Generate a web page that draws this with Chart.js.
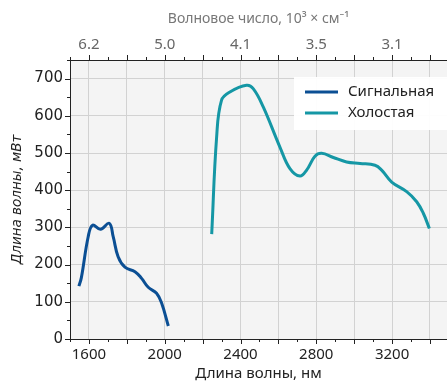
<!DOCTYPE html>
<html>
<head>
<meta charset="utf-8">
<script src="https://cdn.jsdelivr.net/npm/chart.js@4.4.1/dist/chart.umd.min.js"></script>
<style>
  html, body { margin: 0; padding: 0; background: #fff; overflow: hidden; }
  #wrap { width: 447px; height: 383px; }
</style>
</head>
<body>
<div id="wrap"><canvas id="myChart" width="447" height="383"></canvas></div>
<script>
// signal (сигнальная) wave
const signalNm = [1547, 1560, 1596, 1619, 1661, 1707, 1728, 1754, 1790, 1843, 1878, 1913, 1957, 1984, 2019];
const signalPower = [142, 165, 275, 306, 295, 311, 275, 221, 193, 181, 163, 139, 123, 96, 35];

// idler (холостая) wave
const idlerNm = [2248, 2274, 2300, 2344, 2432, 2467, 2520, 2608, 2661, 2714, 2749, 2793, 2828, 2890, 2960, 3031, 3110, 3145, 3198, 3277, 3330, 3365, 3397];
const idlerPower = [282, 543, 642, 664, 682, 673, 624, 516, 458, 438, 454, 491, 499, 488, 476, 472, 467, 454, 422, 396, 369, 338, 297];

const seriesNames = ['Сигнальная', 'Холостая'];
const seriesColors = ['#0b4f94', '#1597a5'];

const xMin = 1500, xMax = 3490;
const yMin = 0, yMax = 750;

const toPoints = (xs, ys) => xs.map((x, i) => ({ x: x, y: ys[i] }));

// every 100 nm; chart.js would otherwise spread the step over the odd range
const hundredTicks = () => {
    const out = [];
    for (let v = xMin; v <= xMax; v += 100) out.push({ value: v });
    return out;
};

// plot background
const bgPlugin = {
    id: 'plotBg',
    beforeDraw(chart) {
        const { ctx, chartArea: a } = chart;
        ctx.save();
        ctx.fillStyle = '#f4f4f4';
        ctx.fillRect(a.left, a.top, a.right - a.left, a.bottom - a.top);
        ctx.restore();
    }
};

// outward tick marks, long on major, short on minor
const tickPlugin = {
    id: 'tickMarks',
    afterDraw(chart) {
        const { ctx, chartArea: a, scales } = chart;
        ctx.save();
        ctx.strokeStyle = '#222';
        ctx.lineWidth = 1;
        ctx.beginPath();
        for (let v = xMin; v <= xMax; v += 100) {
            const px = Math.round(scales.x.getPixelForValue(v)) + 0.5;
            const len = v % 200 === 0 ? 5 : 3;
            ctx.moveTo(px, a.bottom); ctx.lineTo(px, a.bottom + len);
            ctx.moveTo(px, a.top); ctx.lineTo(px, a.top - len);
        }
        for (let v = yMin; v <= yMax; v += 50) {
            const py = Math.round(scales.y.getPixelForValue(v)) + 0.5;
            const len = v % 100 === 0 ? 5 : 3;
            ctx.moveTo(a.left, py); ctx.lineTo(a.left - len, py);
        }
        ctx.stroke();
        ctx.restore();
    }
};

// legend box inside the plot, top right
const legendPlugin = {
    id: 'innerLegend',
    afterDatasetsDraw(chart) {
        const ctx = chart.ctx;
        ctx.save();
        ctx.fillStyle = '#ffffff';
        ctx.globalAlpha = 0.95;
        ctx.fillRect(294, 77, 160, 53);
        ctx.globalAlpha = 1;
        chart.data.datasets.forEach((ds, i) => {
            const y = 92 + i * 21;
            ctx.strokeStyle = ds.borderColor;
            ctx.lineWidth = 3;
            ctx.beginPath();
            ctx.moveTo(305, y);
            ctx.lineTo(338, y);
            ctx.stroke();
            ctx.fillStyle = '#222';
            ctx.font = '15px "Noto Sans", sans-serif';
            ctx.textBaseline = 'middle';
            ctx.fillText(ds.label, 348, y);
        });
        ctx.restore();
    }
};

const ctx = document.getElementById('myChart');
new Chart(ctx, {
    type: 'line',
    data: {
        datasets: [{
            label: seriesNames[0],
            data: toPoints(signalNm, signalPower),
            borderColor: seriesColors[0],
            borderWidth: 3,
            pointRadius: 0,
            tension: 0.4,
            fill: false
        }, {
            label: seriesNames[1],
            data: toPoints(idlerNm, idlerPower),
            borderColor: seriesColors[1],
            borderWidth: 3,
            pointRadius: 0,
            tension: 0.4,
            fill: false
        }]
    },
    options: {
        responsive: false,
        animation: false,
        layout: { padding: 0 },
        plugins: {
            legend: { display: false },
            tooltip: { enabled: false }
        },
        scales: {
            x: {
                type: 'linear',
                position: 'bottom',
                min: xMin,
                max: xMax,
                afterBuildTicks: (s) => { s.ticks = hundredTicks(); },
                afterFit: (s) => { s.height = 44; },
                ticks: {
                    autoSkip: false,
                    maxRotation: 0,
                    padding: 7,
                    color: '#222',
                    font: { family: '"Noto Sans", sans-serif', size: 15 },
                    callback: (v) => v % 400 === 0 ? String(v) : ''
                },
                grid: {
                    drawTicks: false,
                    color: (c) => c.tick && c.tick.value % 200 === 0 ? '#d2d2d2' : 'rgba(0,0,0,0)',
                    lineWidth: 1
                },
                border: { display: true, color: '#222', width: 1 },
                title: {
                    display: true,
                    text: 'Длина волны, нм',
                    color: '#222',
                    font: { family: '"Noto Sans", sans-serif', size: 15 },
                    padding: { top: 0, bottom: 0 }
                }
            },
            x2: {
                type: 'linear',
                position: 'top',
                min: xMin,
                max: xMax,
                afterBuildTicks: (s) => { s.ticks = hundredTicks(); },
                afterFit: (s) => { s.height = 60; },
                ticks: {
                    autoSkip: false,
                    maxRotation: 0,
                    padding: 6,
                    color: '#666',
                    font: { family: '"Noto Sans", sans-serif', size: 15 },
                    callback: (v) => v % 400 === 0 ? (Math.floor(1e5 / v) / 10).toFixed(1) : ''
                },
                grid: { display: false, drawTicks: false },
                border: { display: true, color: '#222', width: 1 },
                title: {
                    display: true,
                    text: 'Волновое число, 10³ × см⁻¹',
                    color: '#777',
                    font: { family: '"Noto Sans", sans-serif', size: 14 },
                    padding: { top: 11, bottom: 0 }
                }
            },
            y: {
                min: yMin,
                max: yMax,
                afterFit: (s) => { s.width = 70; },
                ticks: {
                    stepSize: 50,
                    maxTicksLimit: 100,
                    autoSkip: false,
                    padding: 7,
                    color: '#222',
                    font: { family: '"DejaVu Sans", sans-serif', size: 15 },
                    callback: (v) => v % 100 === 0 ? String(v) : ''
                },
                grid: {
                    drawTicks: false,
                    color: (c) => c.tick && c.tick.value % 100 === 0 && c.tick.value > 0 ? '#d2d2d2' : 'rgba(0,0,0,0)',
                    lineWidth: 1
                },
                border: { display: true, color: '#222', width: 1 },
                title: {
                    display: true,
                    text: 'Длина волны, мВт',
                    color: '#222',
                    font: { family: '"DejaVu Sans", sans-serif', size: 13.5, style: 'italic' },
                    padding: { top: 9, bottom: 0 }
                }
            }
        }
    },
    plugins: [bgPlugin, tickPlugin, legendPlugin]
});
</script>
</body>
</html>
